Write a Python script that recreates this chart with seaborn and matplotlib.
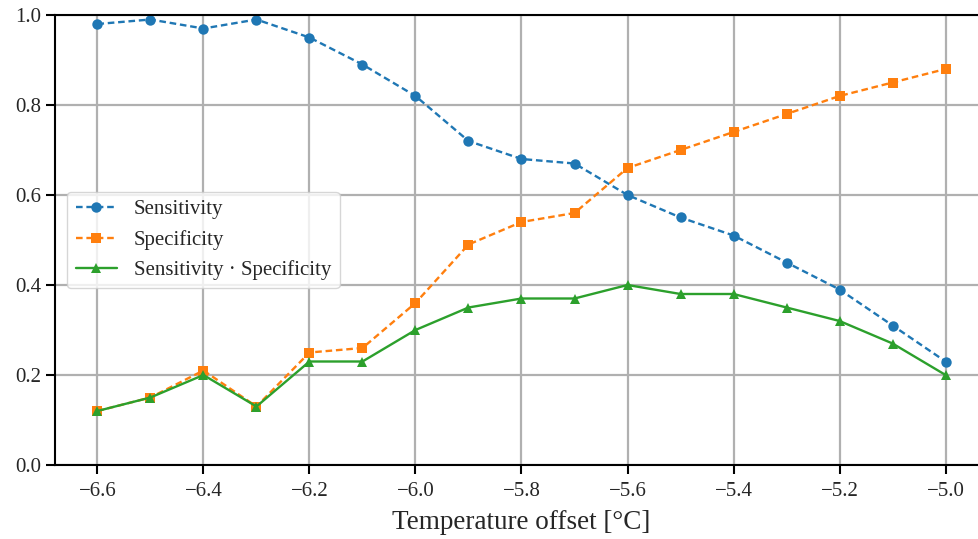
import matplotlib
matplotlib.use("Agg")
import matplotlib.pyplot as plt
import seaborn as sns
import numpy as np
import pandas as pd

temp_offset = [-6.6, -6.5, -6.4, -6.3, -6.2, -6.1, -6.0, -5.9, -5.8, -5.7,
               -5.6, -5.5, -5.4, -5.3, -5.2, -5.1, -5.0]
sensitivity = [0.98, 0.99, 0.97, 0.99, 0.95, 0.89, 0.82, 0.72, 0.68, 0.67,
               0.60, 0.55, 0.51, 0.45, 0.39, 0.31, 0.23]
specificity = [0.12, 0.15, 0.21, 0.13, 0.25, 0.26, 0.36, 0.49, 0.54, 0.56,
               0.66, 0.70, 0.74, 0.78, 0.82, 0.85, 0.88]
product = [0.12, 0.15, 0.20, 0.13, 0.23, 0.23, 0.30, 0.35, 0.37, 0.37,
           0.40, 0.38, 0.38, 0.35, 0.32, 0.27, 0.20]
labels = ["Sensitivity", "Specificity", "Sensitivity \u00b7 Specificity"]
xlabel = "Temperature offset [\u00b0C]"

sns.set_style("ticks")
plt.rcParams['font.family'] = ['Liberation Serif', 'DejaVu Serif']
plt.rcParams['axes.unicode_minus'] = True

fig = plt.figure(figsize=(9.79, 5.39), dpi=100)
W, H = 979, 539
x0, x1 = 55, 988
y0, y1 = 465, 15
ax = fig.add_axes([x0 / W, 1 - y0 / H, (x1 - x0) / W, (y0 - y1) / H])

series = [sensitivity, specificity, product]
colors = ["#1f77b4", "#ff7f0e", "#2ca02c"]
markers = ["o", "s", "^"]
styles = [(2.8, 1.6), (2.8, 1.6), None]
for vals, lab, c, m, ds in zip(series, labels, colors, markers, styles):
    df = pd.DataFrame({"x": temp_offset, "y": vals})
    kw = dict(dashes=ds) if ds is not None else dict(linestyle="-")
    sns.lineplot(data=df, x="x", y="y", ax=ax, color=c, marker=m,
                 linewidth=1.7, markersize=7.5,
                 markeredgewidth=0, label=lab, **kw)

ax.set_xlim(-6.68, -4.92)
ax.set_ylim(0, 1.0)
ax.set_xticks(np.round(np.arange(-6.6, -4.99, 0.2), 1))
ax.set_yticks(np.round(np.arange(0, 1.01, 0.2), 1))
ax.grid(True, color="#b0b0b0", linewidth=1.6)
ax.set_axisbelow(True)
for s in ["left", "bottom", "top", "right"]:
    ax.spines[s].set_linewidth(1.5)
    ax.spines[s].set_color("black")
ax.tick_params(labelsize=15, length=6.5, width=1.5, color="black")
ax.tick_params(axis="x", pad=6)
ax.set_xlabel(xlabel, fontsize=19.5, labelpad=6)
ax.set_ylabel("")
ax.legend(loc="center left", bbox_to_anchor=(0.002, 0.5), fontsize=15,
          frameon=True, fancybox=True, framealpha=0.8, edgecolor="#cccccc",
          handlelength=2.0)

fig.savefig("out.png", dpi=100)
